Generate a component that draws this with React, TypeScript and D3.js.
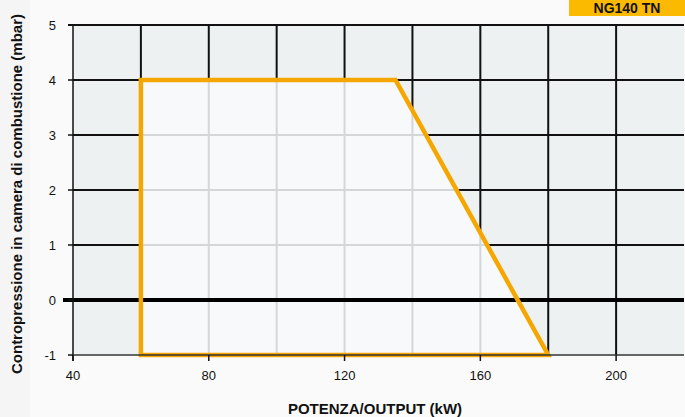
import * as d3 from 'd3'

// data
const xTicks = [40, 80, 120, 160, 200]
const yTicks = [-1, 0, 1, 2, 3, 4, 5]
const xGrid = [60, 80, 100, 120, 140, 160, 180, 200]
const yGrid = [1, 2, 3, 4]
const envelopeKw = [60, 60, 135, 180]
const envelopeMbar = [-1, 4, 4, -1]
const badgeLabel = 'NG140 TN'
const xTitle = 'POTENZA/OUTPUT (kW)'
const yTitle = 'Contropressione in camera di combustione (mbar)'

const width = 685
const height = 417
const marginLeft = 73
const marginRight = 1
const marginTop = 25
const marginBottom = 62

const ORANGE = '#f5a700'

export default function App() {
  const x = d3.scaleLinear([40, 220], [marginLeft, width - marginRight])
  const y = d3.scaleLinear([-1, 5], [height - marginBottom, marginTop])

  const pts: [number, number][] = envelopeKw.map((k, i) => [k, envelopeMbar[i]])
  const line = d3
    .line<[number, number]>()
    .x((d) => x(d[0]))
    .y((d) => y(d[1]))
    .curve(d3.curveLinearClosed)
  const poly = line(pts) as string

  const x0 = x.range()[0]
  const x1 = x.range()[1]
  const y0 = y.range()[0]
  const y1 = y.range()[1]

  const gridLines = (stroke: string, sw: number) => (
    <g stroke={stroke} strokeWidth={sw}>
      {xGrid.map((v) => (
        <line key={'gx' + v} x1={x(v)} x2={x(v)} y1={y1} y2={y0} />
      ))}
      {yGrid.map((v) => (
        <line key={'gy' + v} x1={x0} x2={x1} y1={y(v)} y2={y(v)} />
      ))}
    </g>
  )

  return (
    <svg
      width={width}
      height={height}
      style={{ position: 'absolute', left: 0, top: 0, background: '#fafafa' }}
      fontFamily="Liberation Sans, Arial, sans-serif"
    >
      <defs>
        <clipPath id="env">
          <path d={poly} />
        </clipPath>
      </defs>
      <rect x={0} y={0} width={30} height={height} fill="#f5f5f5" />
      {/* plot background */}
      <rect x={x0} y={y1} width={x1 - x0} height={y0 - y1} fill="#eef1f2" />
      {gridLines('#111', 2)}
      {/* envelope */}
      <path d={poly} fill="#f8f9fb" />
      <g clipPath="url(#env)">{gridLines('#d4d6d8', 2)}</g>
      {/* top border */}
      <line x1={x0 - 5} x2={x1} y1={y1} y2={y1} stroke="#111" strokeWidth={2} />
      {/* zero line */}
      <line x1={x0 - 10} x2={x1} y1={y(0)} y2={y(0)} stroke="#000" strokeWidth={4} />
      <path d={poly} fill="none" stroke={ORANGE} strokeWidth={4.5} strokeLinejoin="miter" />
      {/* axes */}
      <line x1={x0} x2={x0} y1={y1} y2={y0 + 6} stroke="#111" strokeWidth={1.5} />
      <line x1={x0} x2={x1} y1={y0} y2={y0} stroke="#333" strokeWidth={1.5} />
      {yTicks.map((v) => (
        <g key={'yt' + v}>
          <line x1={x0 - 5} x2={x0} y1={y(v)} y2={y(v)} stroke="#111" strokeWidth={1.5} />
          <text x={x0 - 17} y={y(v) + 4.5} textAnchor="end" fontSize={13} fill="#111">
            {v}
          </text>
        </g>
      ))}
      {xTicks.map((v) => (
        <g key={'xt' + v}>
          <line x1={x(v)} x2={x(v)} y1={y0} y2={y0 + 6} stroke="#111" strokeWidth={1.5} />
          <text x={x(v)} y={y0 + 25} textAnchor="middle" fontSize={13} fill="#111">
            {v}
          </text>
        </g>
      ))}
      <text
        x={375}
        y={414}
        textAnchor="middle"
        fontSize={15}
        fontWeight="bold"
        fill="#111"
      >
        {xTitle}
      </text>
      <text
        transform={`translate(22,${(y0 + y1) / 2 + 4}) rotate(-90)`}
        textAnchor="middle"
        fontSize={15}
        fontWeight="bold"
        fill="#111"
      >
        {yTitle}
      </text>
      {/* model badge */}
      <rect x={569} y={0} width={116} height={16} fill="#fbb900" />
      <text x={627} y={13} textAnchor="middle" fontSize={14} fontWeight="bold" fill="#111">
        {badgeLabel}
      </text>
    </svg>
  )
}
